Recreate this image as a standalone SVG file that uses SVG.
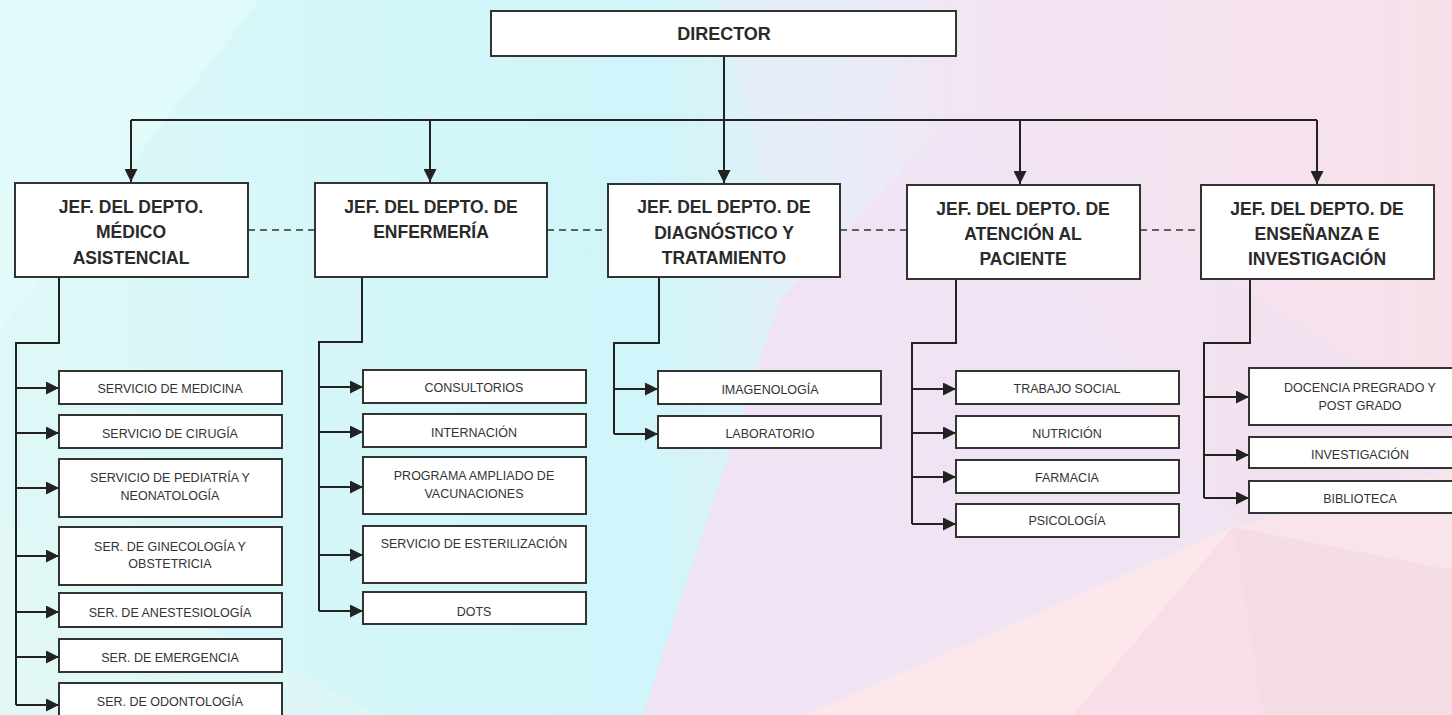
<svg xmlns="http://www.w3.org/2000/svg" width="1452" height="715" viewBox="0 0 1452 715">
<defs>
<linearGradient id="bg" x1="0" y1="0" x2="1" y2="0">
<stop offset="0" stop-color="#dff8f7"/>
<stop offset="0.3" stop-color="#d2f6f9"/>
<stop offset="0.45" stop-color="#d0f5fa"/>
<stop offset="0.56" stop-color="#e6eef8"/>
<stop offset="0.66" stop-color="#f2e5f4"/>
<stop offset="1" stop-color="#f7e0ea"/>
</linearGradient>
<marker id="ah" markerUnits="userSpaceOnUse" markerWidth="13" markerHeight="13" refX="13" refY="6.5" orient="auto">
<path d="M0,0 L13,6.5 L0,13 Z" fill="#222"/>
</marker>
<style>
.box{fill:#fff;stroke:#333;stroke-width:2}
.ln{fill:none;stroke:#222;stroke-width:2}
.ar{fill:none;stroke:#222;stroke-width:2;marker-end:url(#ah)}
.dash{fill:none;stroke:#333;stroke-width:1.6;stroke-dasharray:7 5}
.hd{font-family:"Liberation Sans",Arial,sans-serif;font-weight:bold;font-size:17.5px;fill:#2a2a2a;text-anchor:middle}
.ch{font-family:"Liberation Sans",Arial,sans-serif;font-size:12.5px;fill:#333;text-anchor:middle}
</style>
</defs>
<g id="background">
<rect x="0" y="0" width="1452" height="715" fill="url(#bg)"/>
<polygon points="0,0 260,0 0,330" fill="#e6fbfb" opacity="0.6"/>
<polygon points="0,520 0,715 380,715" fill="#e6f7f4" opacity="0.5"/>
<polygon points="720,0 920,0 800,330" fill="#e8ecf9" opacity="0.6"/>
<polygon points="780,300 960,110 1233,527 806,715 643,715" fill="#efe3f4"/>
<polygon points="960,110 1452,420 1452,470 1233,527" fill="#f0e2f2" opacity="0.6"/>
<polygon points="1233,527 806,715 1073,715" fill="#fce8ea"/>
<polygon points="1233,527 1073,715 1263,715" fill="#f9dde8"/>
<polygon points="1233,527 1263,715 1452,715 1452,570" fill="#f4dde5"/>
<polygon points="1233,527 1452,470 1452,570" fill="#f8e4e9"/>
</g>
<g id="connectors">
<path class="ar" d="M724,56 V183"/>
<path class="ln" d="M131,120 H1317"/>
<path class="ar" d="M131,120 V182"/>
<path class="ar" d="M430,120 V182"/>
<path class="ar" d="M1020,120 V184"/>
<path class="ar" d="M1317,120 V184"/>
<path class="dash" d="M248,230 H315"/>
<path class="dash" d="M547,230 H608"/>
<path class="dash" d="M840,230 H907"/>
<path class="dash" d="M1140,230 H1201"/>
<path class="ln" d="M59,277 V343 H16 V705"/>
<path class="ar" d="M16,388 H59"/>
<path class="ar" d="M16,433 H59"/>
<path class="ar" d="M16,488 H59"/>
<path class="ar" d="M16,556 H59"/>
<path class="ar" d="M16,612 H59"/>
<path class="ar" d="M16,657 H59"/>
<path class="ar" d="M16,705 H59"/>
<path class="ln" d="M362,277 V342 H319 V611"/>
<path class="ar" d="M319,387 H363"/>
<path class="ar" d="M319,432 H363"/>
<path class="ar" d="M319,487 H363"/>
<path class="ar" d="M319,555 H363"/>
<path class="ar" d="M319,611 H363"/>
<path class="ln" d="M659,277 V343 H614 V434"/>
<path class="ar" d="M614,389 H658"/>
<path class="ar" d="M614,434 H658"/>
<path class="ln" d="M956,279 V343 H912 V524"/>
<path class="ar" d="M912,389 H956"/>
<path class="ar" d="M912,433 H956"/>
<path class="ar" d="M912,477 H956"/>
<path class="ar" d="M912,524 H956"/>
<path class="ln" d="M1250,279 V343 H1204 V498"/>
<path class="ar" d="M1204,397 H1249"/>
<path class="ar" d="M1204,455 H1249"/>
<path class="ar" d="M1204,498 H1249"/>
</g>
<g id="director"><rect class="box" x="491" y="11" width="465" height="45"/><text class="hd" x="724" y="40" style="font-size:18px">DIRECTOR</text></g>
<g id="dep-medico"><rect class="box" x="15" y="183" width="233" height="94"/><text class="hd" x="131" y="213">JEF. DEL DEPTO.</text><text class="hd" x="131" y="238">MÉDICO</text><text class="hd" x="131" y="264">ASISTENCIAL</text></g>
<g id="dep-enfermeria"><rect class="box" x="315" y="183" width="232" height="94"/><text class="hd" x="431" y="213">JEF. DEL DEPTO. DE</text><text class="hd" x="431" y="238">ENFERMERÍA</text></g>
<g id="dep-diagnostico"><rect class="box" x="608" y="184" width="232" height="93"/><text class="hd" x="724" y="213">JEF. DEL DEPTO. DE</text><text class="hd" x="724" y="239">DIAGNÓSTICO Y</text><text class="hd" x="724" y="264">TRATAMIENTO</text></g>
<g id="dep-atencion"><rect class="box" x="907" y="185" width="233" height="94"/><text class="hd" x="1023" y="215">JEF. DEL DEPTO. DE</text><text class="hd" x="1023" y="240">ATENCIÓN AL</text><text class="hd" x="1023" y="265">PACIENTE</text></g>
<g id="dep-ensenanza"><rect class="box" x="1201" y="185" width="233" height="94"/><text class="hd" x="1317" y="215">JEF. DEL DEPTO. DE</text><text class="hd" x="1317" y="240">ENSEÑANZA E</text><text class="hd" x="1317" y="265">INVESTIGACIÓN</text></g>
<g id="s-medicina"><rect class="box" x="59" y="371" width="223" height="33"/><text class="ch" x="170" y="393">SERVICIO DE MEDICINA</text></g>
<g id="s-cirugia"><rect class="box" x="59" y="415" width="223" height="33"/><text class="ch" x="170" y="438">SERVICIO DE CIRUGÍA</text></g>
<g id="s-pediatria"><rect class="box" x="59" y="459" width="223" height="58"/><text class="ch" x="170" y="482">SERVICIO DE PEDIATRÍA Y</text><text class="ch" x="170" y="500">NEONATOLOGÍA</text></g>
<g id="s-ginecologia"><rect class="box" x="59" y="527" width="223" height="58"/><text class="ch" x="170" y="551">SER. DE GINECOLOGÍA Y</text><text class="ch" x="170" y="568">OBSTETRICIA</text></g>
<g id="s-anestesiologia"><rect class="box" x="59" y="593" width="223" height="34"/><text class="ch" x="170" y="617">SER. DE ANESTESIOLOGÍA</text></g>
<g id="s-emergencia"><rect class="box" x="59" y="639" width="223" height="33"/><text class="ch" x="170" y="662">SER. DE EMERGENCIA</text></g>
<g id="s-odontologia"><rect class="box" x="59" y="683" width="223" height="36"/><text class="ch" x="170" y="706">SER. DE ODONTOLOGÍA</text></g>
<g id="e-consultorios"><rect class="box" x="363" y="370" width="223" height="33"/><text class="ch" x="474" y="392">CONSULTORIOS</text></g>
<g id="e-internacion"><rect class="box" x="363" y="414" width="223" height="33"/><text class="ch" x="474" y="437">INTERNACIÓN</text></g>
<g id="e-pai"><rect class="box" x="363" y="457" width="223" height="57"/><text class="ch" x="474" y="480">PROGRAMA AMPLIADO DE</text><text class="ch" x="474" y="498">VACUNACIONES</text></g>
<g id="e-esterilizacion"><rect class="box" x="363" y="526" width="223" height="57"/><text class="ch" x="474" y="548">SERVICIO DE ESTERILIZACIÓN</text></g>
<g id="e-dots"><rect class="box" x="363" y="592" width="223" height="32"/><text class="ch" x="474" y="616">DOTS</text></g>
<g id="d-imagenologia"><rect class="box" x="658" y="371" width="223" height="33"/><text class="ch" x="770" y="394">IMAGENOLOGÍA</text></g>
<g id="d-laboratorio"><rect class="box" x="658" y="416" width="223" height="32"/><text class="ch" x="770" y="438">LABORATORIO</text></g>
<g id="a-trabajo"><rect class="box" x="956" y="371" width="223" height="33"/><text class="ch" x="1067" y="393">TRABAJO SOCIAL</text></g>
<g id="a-nutricion"><rect class="box" x="956" y="416" width="223" height="32"/><text class="ch" x="1067" y="438">NUTRICIÓN</text></g>
<g id="a-farmacia"><rect class="box" x="956" y="460" width="223" height="33"/><text class="ch" x="1067" y="482">FARMACIA</text></g>
<g id="a-psicologia"><rect class="box" x="956" y="504" width="223" height="33"/><text class="ch" x="1067" y="525">PSICOLOGÍA</text></g>
<g id="i-docencia"><rect class="box" x="1249" y="368" width="223" height="57"/><text class="ch" x="1360" y="392">DOCENCIA PREGRADO Y</text><text class="ch" x="1360" y="410">POST GRADO</text></g>
<g id="i-investigacion"><rect class="box" x="1249" y="437" width="223" height="31"/><text class="ch" x="1360" y="459">INVESTIGACIÓN</text></g>
<g id="i-biblioteca"><rect class="box" x="1249" y="481" width="223" height="32"/><text class="ch" x="1360" y="503">BIBLIOTECA</text></g>
</svg>
